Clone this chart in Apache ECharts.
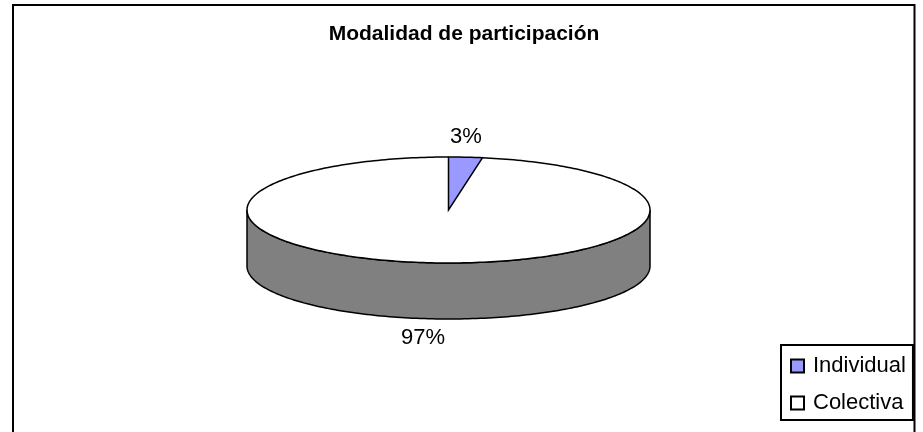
<!DOCTYPE html>
<html>
<head>
<meta charset="utf-8">
<style>
html, body { margin: 0; padding: 0; background: #fff; }
#main { width: 923px; height: 432px; }
</style>
<script src="https://cdn.jsdelivr.net/npm/echarts@6/dist/echarts.min.js"></script>
</head>
<body>
<div id="main"></div>
<script>
const titleText = 'Modalidad de participación';
const categories = ['Individual', 'Colectiva'];
const values = [2.7, 97.3];
const colors = ['#9999ff', '#ffffff'];

const font = 'Liberation Sans, Arial, sans-serif';
const total = values.reduce((a, b) => a + b, 0);

// tilted pie geometry
const cx = 448.5, cy = 210, rx = 201.5, ry = 53, depth = 56;
const point = (ang, dy) => [cx + rx * Math.sin(ang), cy + (dy || 0) - ry * Math.cos(ang)];

function arc(a0, a1, dy) {
    const n = Math.max(2, Math.ceil(Math.abs(a1 - a0) / 0.02));
    const pts = [];
    for (let i = 0; i <= n; i++) {
        pts.push(point(a0 + (a1 - a0) * i / n, dy));
    }
    return pts;
}

const chartDom = document.getElementById('main');
const myChart = echarts.init(chartDom, null, { renderer: 'canvas' });

const labelPos = [[466, 137], [423, 338]];

function makeSeries(idx) {
    const before = values.slice(0, idx).reduce((a, b) => a + b, 0);
    return {
        name: categories[idx],
        type: 'custom',
        coordinateSystem: 'none',
        silent: true,
        itemStyle: { color: colors[idx], borderColor: '#000', borderWidth: 2 },
        data: [[values[idx]]],
        renderItem: (params, api) => {
            const v = api.value(0);
            const a0 = before / total * Math.PI * 2;
            const a1 = (before + v) / total * Math.PI * 2;
            const children = [];
            // visible wall is the part of the rim facing the viewer
            const s0 = Math.max(a0, Math.PI / 2);
            const s1 = Math.min(a1, Math.PI * 1.5);
            if (s1 > s0) {
                children.push({
                    type: 'polygon',
                    shape: { points: arc(s0, s1, 0).concat(arc(s1, s0, depth)) },
                    style: { fill: '#808080', stroke: '#000', lineWidth: 1.5 }
                });
            }
            children.push({
                type: 'polygon',
                shape: { points: [[cx, cy]].concat(arc(a0, a1, 0)) },
                style: { fill: colors[idx], stroke: idx === 0 ? '#000' : null, lineWidth: 1.5 }
            });
            if (idx === 1) {
                // rim line of the big slice without spokes showing through
                children.push({
                    type: 'polyline',
                    shape: { points: arc(a0, a1, 0) },
                    style: { fill: null, stroke: '#000', lineWidth: 1.5 }
                });
            }
            children.push({
                type: 'text',
                style: {
                    text: Math.round(v / total * 100) + '%',
                    x: labelPos[idx][0],
                    y: labelPos[idx][1] - 11,
                    font: '22px ' + font,
                    fill: '#000',
                    align: 'center'
                }
            });
            return { type: 'group', children: children };
        }
    };
}

myChart.setOption({
    animation: false,
    backgroundColor: '#fff',
    title: {
        text: titleText,
        left: 459,
        top: 19,
        textAlign: 'center',
        textStyle: { fontFamily: font, fontSize: 21, fontWeight: 'bold', color: '#000' }
    },
    legend: {
        data: categories,
        orient: 'vertical',
        left: 781,
        top: 345,
        padding: [10, 7, 6, 9],
        itemGap: 15,
        itemWidth: 13,
        itemHeight: 13,
        icon: 'rect',
        borderColor: '#000',
        borderWidth: 2,
        selectedMode: false,
        textStyle: { fontFamily: font, fontSize: 22, color: '#000', padding: [0, 0, 0, 4] }
    },
    graphic: [{
        type: 'rect',
        silent: true,
        z: -1,
        shape: { x: 13, y: 5, width: 901.5, height: 440 },
        style: { fill: '#fff', stroke: '#000', lineWidth: 2 }
    }],
    series: [makeSeries(1), makeSeries(0)]
});
</script>
</body>
</html>
